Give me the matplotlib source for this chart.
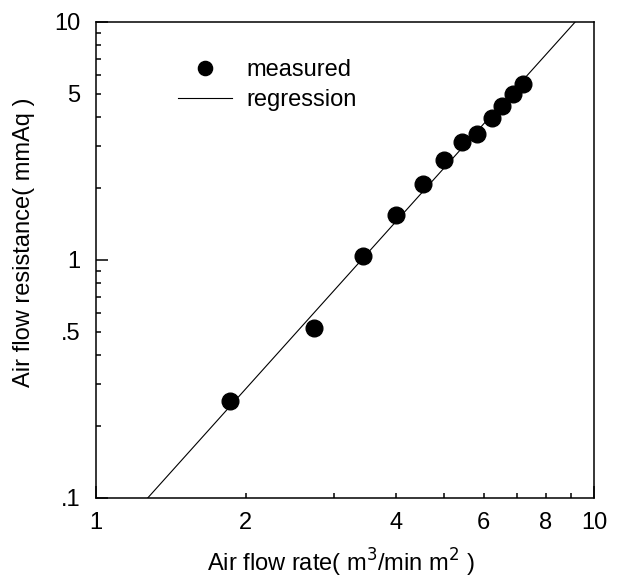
import matplotlib
matplotlib.use('Agg')

import numpy as np
import matplotlib.pyplot as plt

plt.rcParams['font.family'] = ['Liberation Sans', 'DejaVu Sans']

# measured points
flow_rate = [1.86, 2.74, 3.43, 4.00, 4.53, 5.00, 5.42, 5.81, 6.23, 6.55, 6.87, 7.21]
resistance = [0.255, 0.516, 1.04, 1.55, 2.08, 2.62, 3.13, 3.38, 3.94, 4.44, 5.00, 5.51]

# regression: resistance = coef * rate ** power
reg_coef = 0.0573
reg_power = 2.33

x_major = [1, 10]
x_major_labels = ['1', '10']
x_minor = [2, 3, 4, 5, 6, 7, 8, 9]
x_minor_labels = ['2', '', '4', '', '6', '', '8', '']
y_major = [0.1, 1, 10]
y_major_labels = ['.1', '1', '10']
y_minor = [0.2, 0.3, 0.4, 0.5, 0.6, 0.7, 0.8, 0.9, 2, 3, 4, 5, 6, 7, 8, 9]
y_minor_labels = ['', '', '', '.5', '', '', '', '', '', '', '', '5', '', '', '', '']

fig = plt.figure(figsize=(6.4, 5.8), dpi=100)
ax = fig.add_axes([96 / 640, 1 - 498 / 580, 498 / 640, 476 / 580])

xs = np.logspace(0, 1, 200)
ax.plot(xs, reg_coef * xs ** reg_power, color='black', lw=0.8, label='regression', zorder=2)
ax.plot(flow_rate, resistance, 'o', color='black', ms=12, label='measured', zorder=3)

ax.set_xscale('log')
ax.set_yscale('log')
ax.set_xlim(1, 10)
ax.set_ylim(0.1, 10)

ax.set_xticks(x_major, x_major_labels)
ax.set_xticks(x_minor, x_minor_labels, minor=True)
ax.set_yticks(y_major, y_major_labels)
ax.set_yticks(y_minor, y_minor_labels, minor=True)

ax.tick_params(which='both', direction='in', labelsize=17, width=1.1)
ax.tick_params(which='major', length=8.5)
ax.tick_params(which='minor', length=3.5)
ax.tick_params(axis='x', which='both', pad=10)
ax.tick_params(axis='y', which='both', pad=11)
for s in ax.spines.values():
    s.set_linewidth(1.1)

ax.set_xlabel('Air flow rate( m$^3$/min m$^2$ )', fontsize=17)
ax.set_ylabel('Air flow resistance( mmAq )', fontsize=17)
ax.xaxis.set_label_coords(0.492, -0.136)
ax.xaxis.label.set_va('center')
ax.yaxis.set_label_coords(-0.145, 0.537)
ax.yaxis.label.set_va('center')

handles, labels = ax.get_legend_handles_labels()
ax.legend(handles[::-1], labels[::-1], loc='upper left',
          bbox_to_anchor=(166 / 640, 1 - 47 / 580), bbox_transform=fig.transFigure,
          frameon=False, fontsize=17, markerscale=0.85, handlelength=2.3,
          handletextpad=0.6, labelspacing=0.35, borderpad=0)

fig.savefig('out.png', dpi=100)
